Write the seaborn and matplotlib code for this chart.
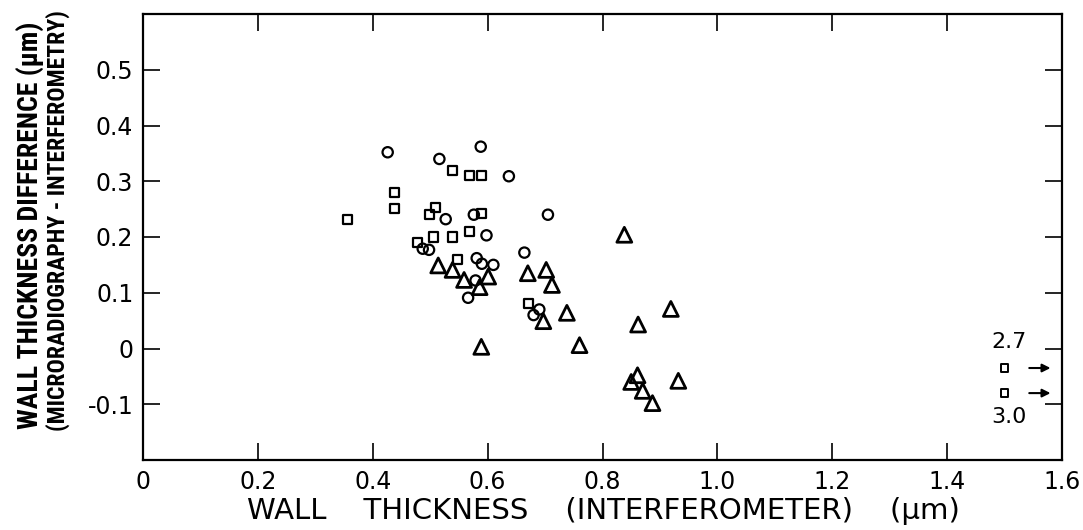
import numpy as np
import pandas as pd
import matplotlib
matplotlib.use("Agg")
import matplotlib.pyplot as plt
from matplotlib import font_manager
import seaborn as sns

# ---------------- data ----------------
circle_x = [0.426, 0.516, 0.588, 0.637, 0.527, 0.576, 0.705, 0.598, 0.664,
            0.487, 0.498, 0.581, 0.590, 0.610, 0.579, 0.566, 0.690, 0.680]
circle_y = [0.352, 0.340, 0.362, 0.309, 0.232, 0.240, 0.240, 0.203, 0.172,
            0.179, 0.177, 0.162, 0.152, 0.150, 0.122, 0.091, 0.070, 0.060]

square_x = [0.356, 0.438, 0.437, 0.538, 0.569, 0.590, 0.510, 0.499, 0.590,
            0.478, 0.506, 0.538, 0.568, 0.547, 0.671]
square_y = [0.231, 0.280, 0.252, 0.319, 0.311, 0.311, 0.253, 0.241, 0.243,
            0.191, 0.200, 0.200, 0.209, 0.160, 0.081]

triangle_x = [0.514, 0.539, 0.559, 0.586, 0.601, 0.670, 0.702, 0.712, 0.697,
              0.738, 0.589, 0.760, 0.838, 0.919, 0.862, 0.861, 0.850, 0.932,
              0.870, 0.887]
triangle_y = [0.149, 0.141, 0.123, 0.110, 0.129, 0.135, 0.141, 0.114, 0.049,
              0.064, 0.003, 0.006, 0.204, 0.071, 0.043, -0.048, -0.060, -0.058,
              -0.076, -0.098]

# off-scale squares (true wall thickness 2.7 and 3.0 um)
offscale_x = [1.5, 1.5]
offscale_y = [-0.035, -0.080]
offscale_labels = ["2.7", "3.0"]

x_ticks = [0, 0.2, 0.4, 0.6, 0.8, 1.0, 1.2, 1.4, 1.6]
x_ticklabels = ["0", "0.2", "0.4", "0.6", "0.8", "1.0", "1.2", "1.4", "1.6"]
y_ticks = [-0.1, 0, 0.1, 0.2, 0.3, 0.4, 0.5]
y_ticklabels = ["-0.1", "0", "0.1", "0.2", "0.3", "0.4", "0.5"]

# ---------------- fonts ----------------
sns.set_theme(style="white")
plt.rcParams["font.family"] = ["DejaVu Sans"]

names = {f.name for f in font_manager.fontManager.ttflist}
narrow_family = None
for cand in ["Liberation Sans Narrow", "Roboto Condensed", "Open Sans Condensed",
             "Noto Sans Condensed"]:
    if cand in names:
        narrow_family = cand
        break
has_dejavu_cond = any(f.name == "DejaVu Sans" and f.stretch == "condensed"
                      for f in font_manager.fontManager.ttflist)

def narrow_props(size, weight="normal"):
    if narrow_family:
        return dict(family=[narrow_family, "DejaVu Sans"], fontsize=size, fontweight=weight)
    if has_dejavu_cond:
        return dict(family=["DejaVu Sans"], fontstretch="condensed", fontsize=size, fontweight=weight)
    return dict(family=["DejaVu Sans"], fontsize=size * 0.8, fontweight=weight)

# ---------------- figure ----------------
W, H = 1083, 530
fig = plt.figure(figsize=(W / 100, H / 100), dpi=100)
ax = fig.add_axes([143 / W, 1 - 460 / H, (1062 - 143) / W, (460 - 14) / H])
ax.set_facecolor("white")

df_c = pd.DataFrame({"x": circle_x, "y": circle_y})
df_s = pd.DataFrame({"x": square_x, "y": square_y})
df_t = pd.DataFrame({"x": triangle_x, "y": triangle_y})
df_o = pd.DataFrame({"x": offscale_x, "y": offscale_y})

sns.scatterplot(data=df_c, x="x", y="y", marker="o", s=55, facecolors="none",
                edgecolor="black", linewidth=1.6, ax=ax, zorder=3)
sns.scatterplot(data=df_s, x="x", y="y", marker="s", s=42, facecolors="none",
                edgecolor="black", linewidth=1.6, ax=ax, zorder=3)
sns.scatterplot(data=df_t, x="x", y="y", marker="^", s=115, facecolors="none",
                edgecolor="black", linewidth=2.0, ax=ax, zorder=3)
sns.scatterplot(data=df_o, x="x", y="y", marker="s", s=30, facecolors="none",
                edgecolor="black", linewidth=1.4, ax=ax, zorder=3)

for yv in offscale_y:
    ax.annotate("", xy=(1.58, yv), xytext=(1.543, yv),
                arrowprops=dict(arrowstyle="-|>", color="black", lw=1.5,
                                mutation_scale=12, shrinkA=0, shrinkB=0))
ax.text(1.507, offscale_y[0] + 0.046, offscale_labels[0], ha="center", va="center",
        fontsize=16, color="black")
ax.text(1.507, offscale_y[1] - 0.043, offscale_labels[1], ha="center", va="center",
        fontsize=16, color="black")

ax.set_xlim(0, 1.6)
ax.set_ylim(-0.2, 0.6)
ax.set_xticks(x_ticks)
ax.set_xticklabels(x_ticklabels)
ax.set_yticks(y_ticks)
ax.set_yticklabels(y_ticklabels)
ax.tick_params(axis="both", direction="in", length=12, width=1.2, colors="black",
               labelsize=17, pad=7, top=True, right=True, bottom=True, left=True)
for side in ["left", "right", "top", "bottom"]:
    ax.spines[side].set_visible(True)
    ax.spines[side].set_color("black")
    ax.spines[side].set_linewidth(1.6)
ax.set_xlabel("")
ax.set_ylabel("")
ax.grid(False)

fig.text(603 / W, 1 - 511 / H,
         "WALL    THICKNESS    (INTERFEROMETER)    (\u03bcm)",
         ha="center", va="center", fontsize=21, color="black")
fig.text(30 / W, 1 - 225 / H, "WALL THICKNESS DIFFERENCE (\u03bcm)", rotation=90,
         ha="center", va="center", color="black", **narrow_props(20, "bold"))
fig.text(58 / W, 1 - 221 / H, "(MICRORADIOGRAPHY - INTERFEROMETRY)", rotation=90,
         ha="center", va="center", color="black", **narrow_props(17, "bold"))

fig.savefig("out.png", dpi=100, facecolor="white")
